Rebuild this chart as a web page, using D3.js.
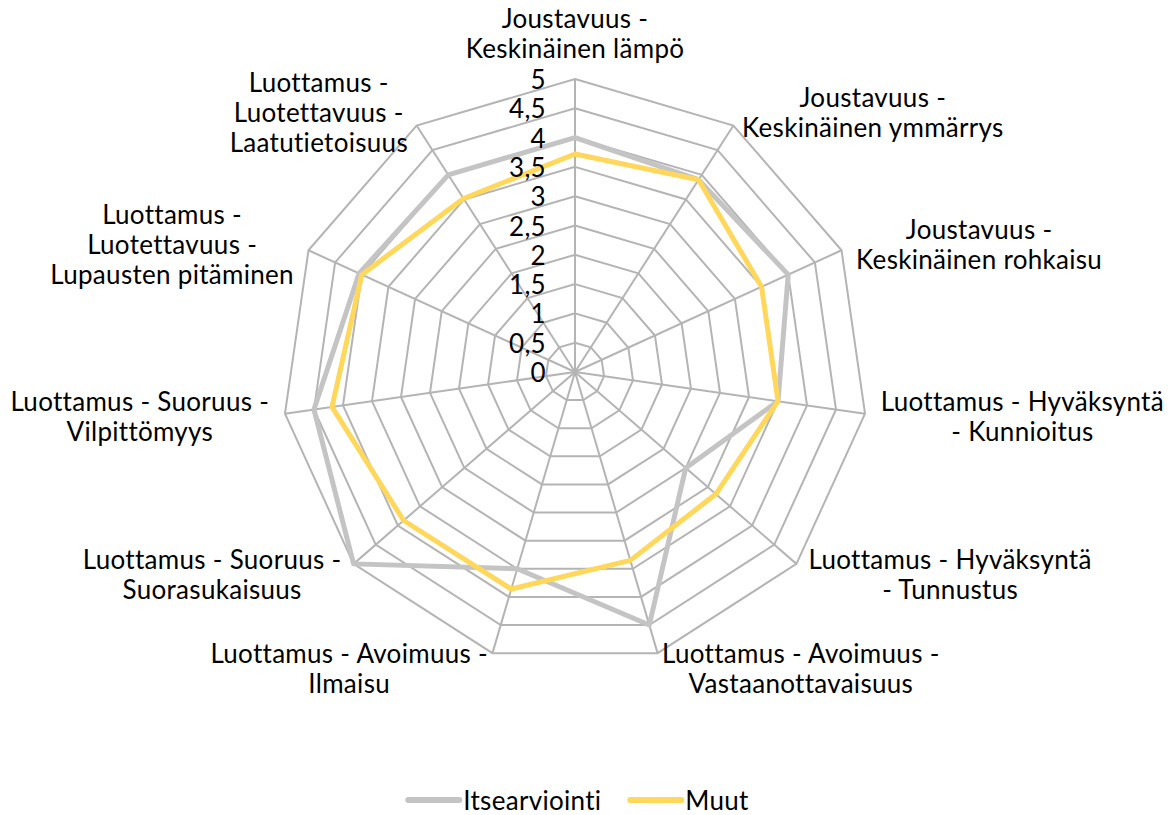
<!DOCTYPE html>
<html>
<head>
<meta charset="utf-8">
<script src="https://cdn.jsdelivr.net/npm/d3@7"></script>
<style>
  body { margin: 0; background: #fff; }
  text { font-family: Lato, "Open Sans", sans-serif; fill: #000; letter-spacing: 0.3px; }
</style>
</head>
<body>
<svg id="chart" width="1173" height="815"></svg>
<script>
// categories, clockwise from the top
var categories = [
  "Joustavuus -\nKeskinäinen lämpö",
  "Joustavuus -\nKeskinäinen ymmärrys",
  "Joustavuus -\nKeskinäinen rohkaisu",
  "Luottamus - Hyväksyntä\n- Kunnioitus",
  "Luottamus - Hyväksyntä\n- Tunnustus",
  "Luottamus - Avoimuus -\nVastaanottavaisuus",
  "Luottamus - Avoimuus -\nIlmaisu",
  "Luottamus - Suoruus -\nSuorasukaisuus",
  "Luottamus - Suoruus -\nVilpittömyys",
  "Luottamus -\nLuotettavuus -\nLupausten pitäminen",
  "Luottamus -\nLuotettavuus -\nLaatutietoisuus"
];

var itsearviointi = [4.0, 3.9, 4.0, 3.5, 2.5, 4.5, 3.5, 5.0, 4.5, 4.05, 4.0];
var muut = [3.72, 3.9, 3.5, 3.5, 3.18, 3.35, 3.86, 3.87, 4.19, 4.0, 3.52];

var ticks = [0, 0.5, 1, 1.5, 2, 2.5, 3, 3.5, 4, 4.5, 5];
var tickLabels = ["0", "0,5", "1", "1,5", "2", "2,5", "3", "3,5", "4", "4,5", "5"];

var seriesNames = ["Itsearviointi", "Muut"];
var seriesColors = ["#c4c4c4", "#ffd75a"];

var cx = 575, cy = 372, R = 293;
var fontSize = 26, lineH = 30;

var svg = d3.select("#chart");
var g = svg.append("g").attr("transform", "translate(" + cx + "," + cy + ")");

var r = d3.scaleLinear().domain([0, 5]).range([0, R]);
var n = categories.length;
var angle = function(i) { return i * 2 * Math.PI / n; };

var radial = d3.lineRadial()
  .angle(function(d, i) { return angle(i); })
  .radius(function(d) { return r(d); })
  .curve(d3.curveLinearClosed);

// rings
g.selectAll("path.ring")
  .data(ticks.filter(function(t) { return t > 0; }))
  .enter().append("path")
  .attr("class", "ring")
  .attr("d", function(t) { return radial(categories.map(function() { return t; })); })
  .attr("fill", "none")
  .attr("stroke", "#b4b4b4")
  .attr("stroke-width", 2);

// spokes
g.selectAll("line.spoke")
  .data(categories)
  .enter().append("line")
  .attr("x2", function(d, i) { return Math.sin(angle(i)) * R; })
  .attr("y2", function(d, i) { return -Math.cos(angle(i)) * R; })
  .attr("stroke", "#b4b4b4")
  .attr("stroke-width", 2);

// series
[itsearviointi, muut].forEach(function(vals, s) {
  g.append("path")
    .attr("d", radial(vals))
    .attr("fill", "none")
    .attr("stroke", seriesColors[s])
    .attr("stroke-width", 5)
    .attr("stroke-linejoin", "round");
});

// tick labels
g.selectAll("text.tick")
  .data(ticks)
  .enter().append("text")
  .attr("x", -29)
  .attr("y", function(t) { return -r(t); })
  .attr("text-anchor", "end")
  .attr("dominant-baseline", "central")
  .style("font-size", fontSize + "px")
  .text(function(t, i) { return tickLabels[i]; });

// category labels
var gap = 16;
categories.forEach(function(c, i) {
  var a = angle(i);
  var sx = Math.sin(a), sy = -Math.cos(a);
  var px = sx * (R + gap), py = sy * (R + gap);
  var lines = c.split("\n");
  var lab = g.append("g");
  var texts = lines.map(function(l) {
    return lab.append("text")
      .attr("text-anchor", "middle")
      .attr("dominant-baseline", "central")
      .style("font-size", fontSize + "px")
      .text(l);
  });
  var w = d3.max(texts, function(t) { return t.node().getComputedTextLength(); });
  var k = lines.length;
  var x0, yc;
  if (Math.abs(sx) < 0.01) {
    x0 = px;
    yc = sy < 0 ? py - k * lineH / 2 : py + k * lineH / 2;
  } else {
    x0 = sx > 0 ? px + w / 2 : px - w / 2;
    yc = py;
  }
  texts.forEach(function(t, j) {
    t.attr("x", x0).attr("y", yc + (j - (k - 1) / 2) * lineH);
  });
});

// legend
var legend = svg.append("g");
var lx = 0;
seriesNames.forEach(function(name, s) {
  var item = legend.append("g").attr("transform", "translate(" + lx + ",0)");
  item.append("line")
    .attr("x1", 3).attr("x2", 54)
    .attr("stroke", seriesColors[s])
    .attr("stroke-width", 6)
    .attr("stroke-linecap", "round");
  var t = item.append("text")
    .attr("x", 58)
    .attr("dominant-baseline", "central")
    .style("font-size", fontSize + "px")
    .text(name);
  lx += 58 + t.node().getComputedTextLength() + 26;
});
lx -= 26;
legend.attr("transform", "translate(" + (577 - lx / 2) + ",800)");
</script>
</body>
</html>
